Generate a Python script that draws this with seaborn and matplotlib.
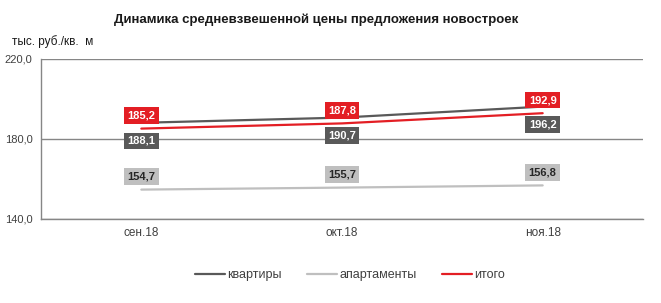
import matplotlib
matplotlib.use("Agg")
import matplotlib.pyplot as plt
import seaborn as sns
import pandas as pd
from matplotlib.ticker import FixedLocator

categories = ["сен.18", "окт.18", "ноя.18"]
series_names = ["квартиры", "апартаменты", "итого"]
kvartiry = [188.1, 190.7, 196.2]
apartamenty = [154.7, 155.7, 156.8]
itogo = [185.2, 187.8, 192.9]

colors = {"квартиры": "#595959", "апартаменты": "#bfbfbf", "итого": "#e31e24"}

rows = []
for name, vals in zip(series_names, [kvartiry, apartamenty, itogo]):
    for c, v in zip(categories, vals):
        rows.append({"cat": c, "value": v, "series": name})
df = pd.DataFrame(rows)

sns.set_style("white")
plt.rcParams['font.family'] = ['Liberation Sans', 'DejaVu Sans']

fig = plt.figure(figsize=(6.61, 3.03), dpi=100)
ax = fig.add_axes([41/661, 1-219/303, (643-41)/661, 160/303])

sns.lineplot(data=df, x="cat", y="value", hue="series", hue_order=series_names,
             palette=colors, linewidth=1.6, ax=ax, sort=False)

ax.set_xlim(-0.5, 2.5)
ax.set_ylim(140, 220)
ax.set_yticks([140, 180, 220])
ax.set_yticklabels(["140,0", "180,0", "220,0"])
ax.set_xticks(range(len(categories)))
ax.set_xticklabels(categories)
ax.xaxis.set_minor_locator(FixedLocator([-0.5, 0.5, 1.5, 2.5]))
ax.tick_params(axis="x", which="major", length=0, labelsize=8.5, colors="#404040", pad=6)
ax.tick_params(axis="x", which="minor", length=4, color="#868686", direction="out")
ax.tick_params(axis="y", which="major", length=4, color="#868686", labelsize=8,
               colors="#404040", direction="out", pad=2)
ax.set_xlabel("")
ax.set_ylabel("")
ax.grid(axis="y", color="#868686", linewidth=1.0)
ax.set_axisbelow(True)
for s in ["top", "right"]:
    ax.spines[s].set_visible(False)
for s in ["left", "bottom"]:
    ax.spines[s].set_color("#868686")
    ax.spines[s].set_linewidth(1.0)

label_cfg = {
    "квартиры": (kvartiry, -13, "#595959", "white"),
    "апартаменты": (apartamenty, 9.5, "#bfbfbf", "#262626"),
    "итого": (itogo, 9.5, "#e31e24", "white"),
}
for name in series_names:
    vals, off, fc, tc = label_cfg[name]
    for i, v in enumerate(vals):
        ax.annotate(f"{v:.1f}".replace(".", ","), (i, v), xytext=(0, off),
                    textcoords="offset points", ha="center", va="center",
                    fontsize=8, fontweight="bold", color=tc,
                    bbox=dict(boxstyle="square,pad=0.3", fc=fc, ec="none"),
                    zorder=5)

fig.text(316/661, 1-20/303, "Динамика средневзвешенной цены предложения новостроек",
         ha="center", va="center", fontsize=9.5, fontweight="bold", color="#1a1a1a")
fig.text(12/661, 1-42/303, "тыс. руб./кв.  м", ha="left", va="center",
         fontsize=8.5, color="#1a1a1a")

leg = ax.legend(loc="center", bbox_to_anchor=(350/661, 1-275/303),
                bbox_transform=fig.transFigure, ncol=3, frameon=False,
                fontsize=9, handlelength=2.4, handletextpad=0.2, columnspacing=2.0)
for t in leg.get_texts():
    t.set_color("#404040")

fig.savefig("out.png", dpi=100)
